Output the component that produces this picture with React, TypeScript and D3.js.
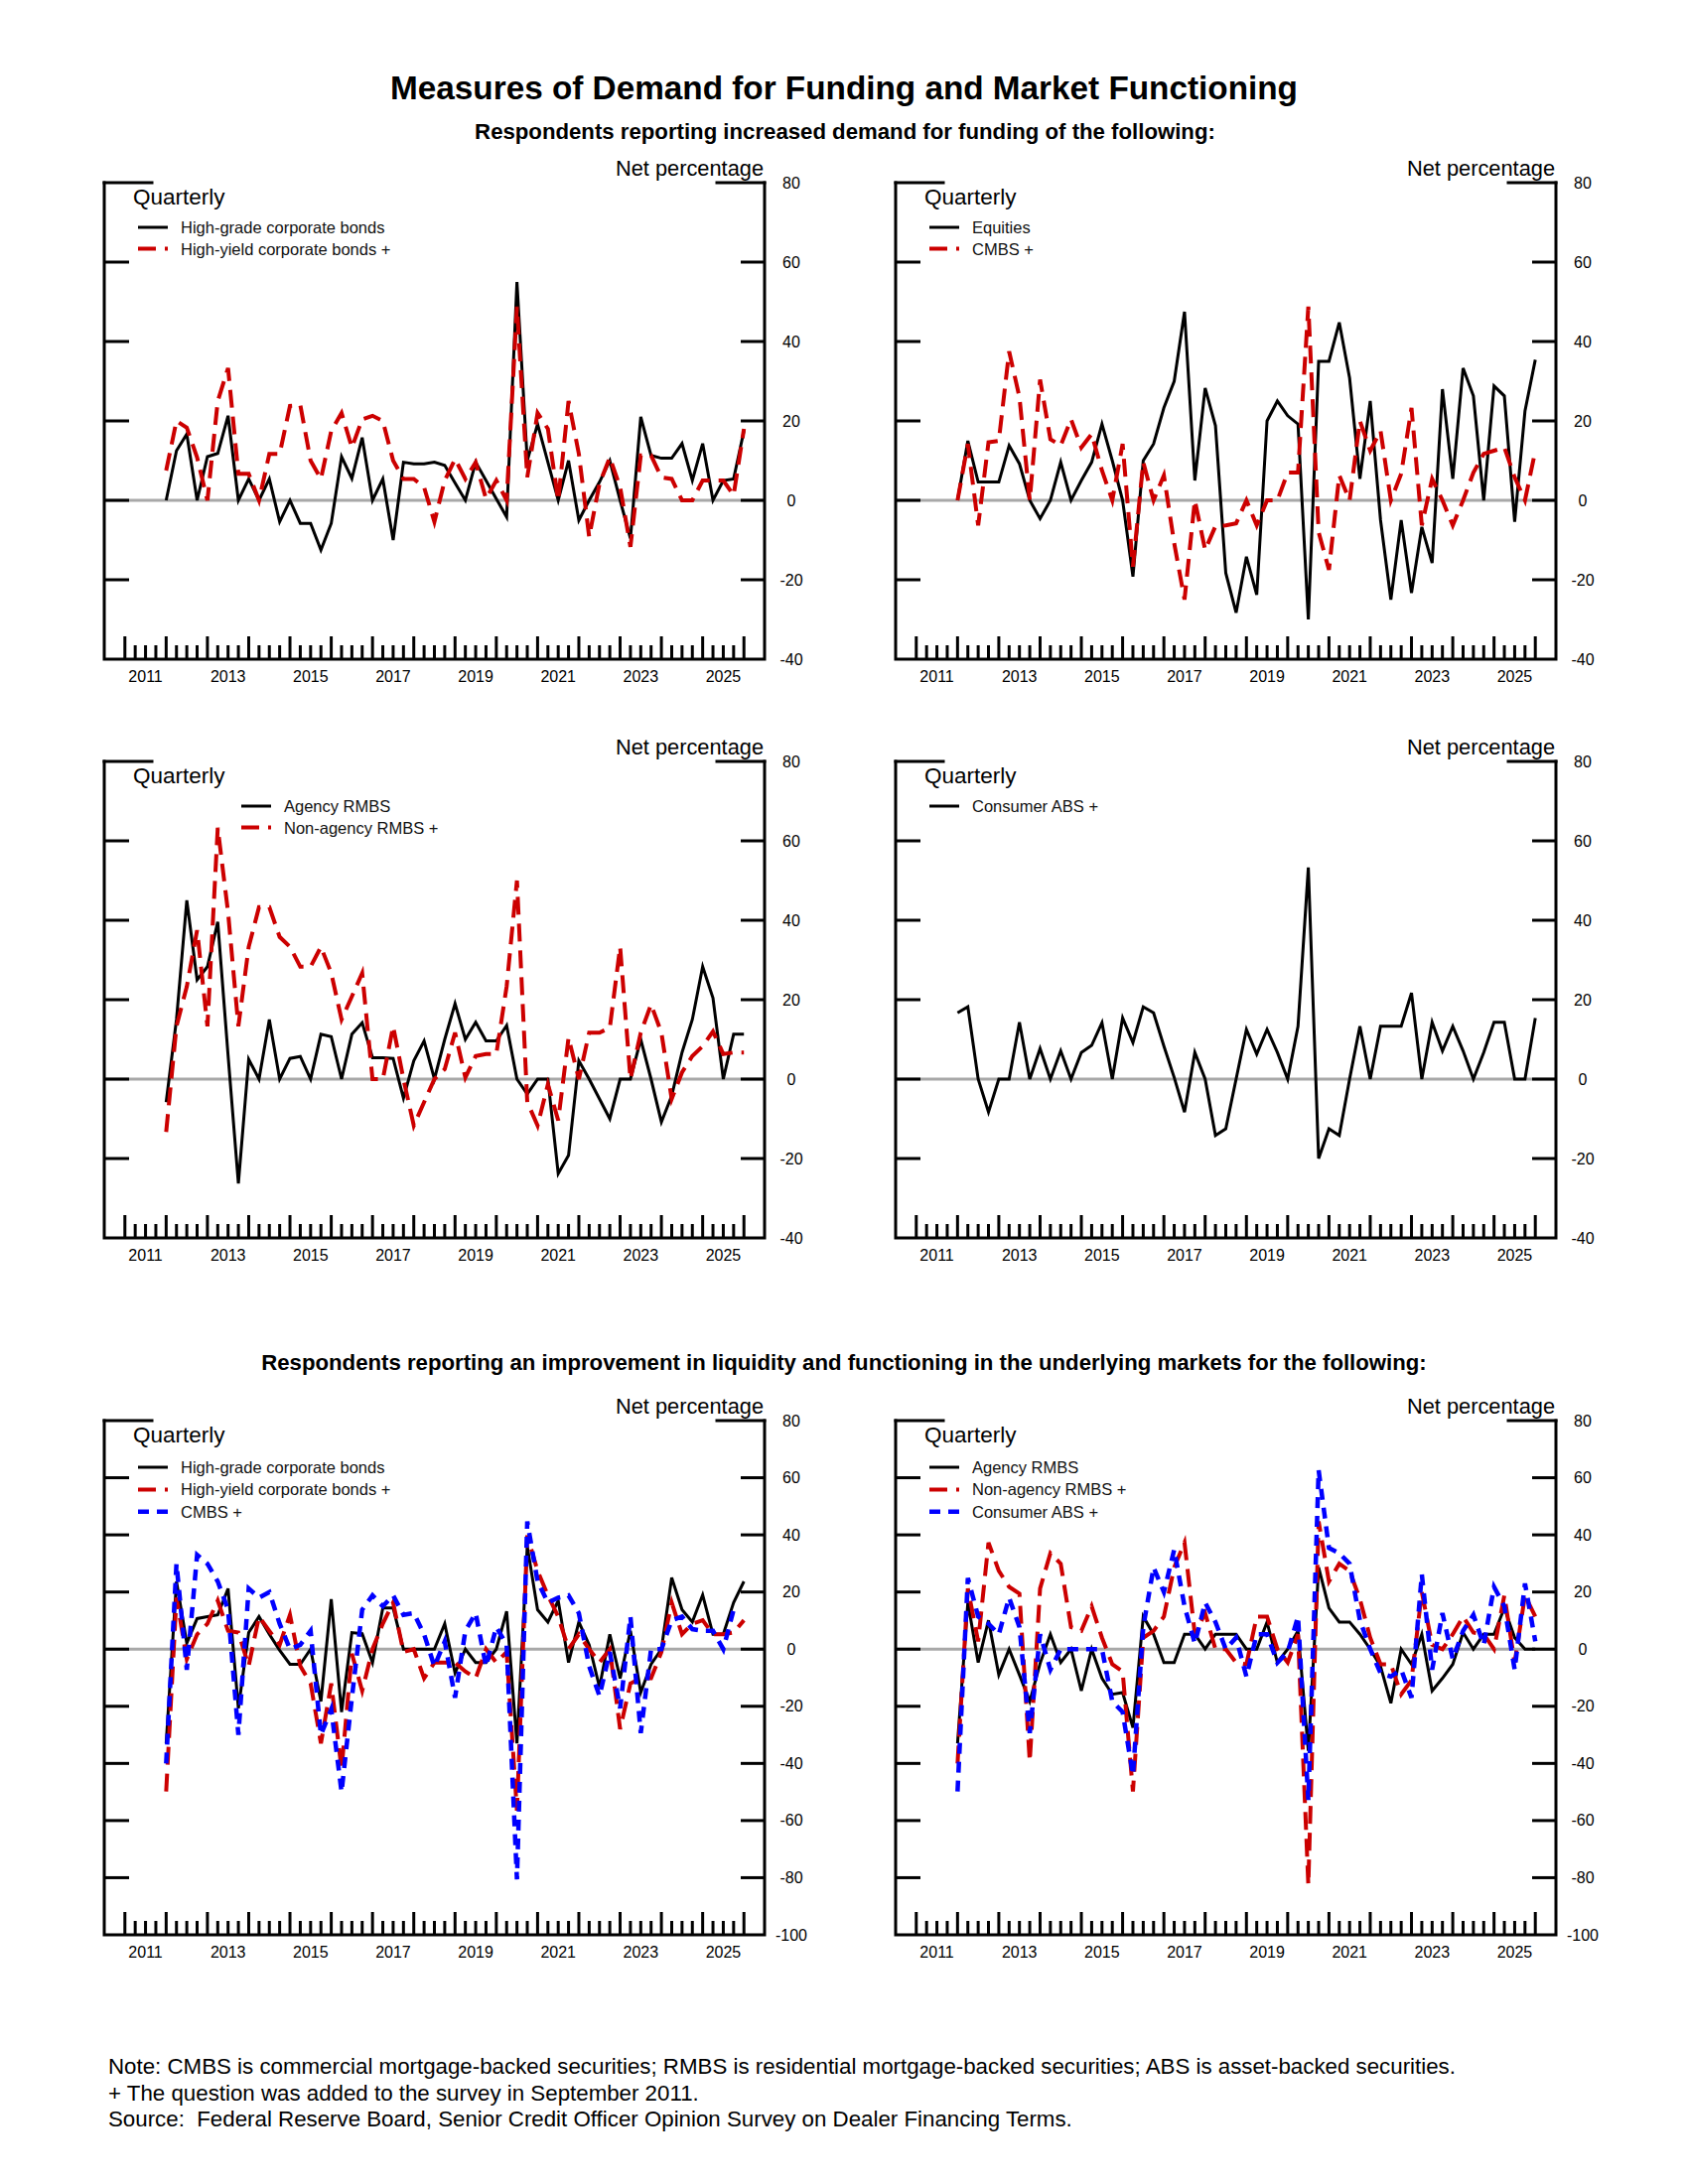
import { useEffect, useRef } from 'react';
import * as d3 from 'd3';

// Quarterly survey readings (net percentage). First reading sits on the 2012 tick.
const FIRST_QUARTER = 2012;
const YEAR_LABELS = [2011, 2013, 2015, 2017, 2019, 2021, 2023, 2025];

// Demand for funding
const demandHighGrade = [0, 12.5, 16.7, 0, 11, 11.8, 21.3, 0, 5.4, 0, 5.4, -5.4, 0, -5.8, -5.8, -12.5, -5.8, 11, 5.5, 15.8, 0, 5.4, -10, 9.6, 9.2, 9.2, 9.6, 8.8, 4.4, 0, 9.6, 5, 0.4, -4.2, 55, 10, 19.2, 9.6, 0, 10, -5, 0, 4.6, 10, 0, -9.6, 21, 11.3, 10.6, 10.6, 14.3, 5, 14.3, 0, 5, 5.4, 17.5];
const demandHighYield = [7.5, 20, 18.3, 10.8, 0, 25, 33.3, 6.7, 6.7, 0, 11.7, 11.7, 23.8, 24, 10, 5.4, 17.5, 22, 13.3, 20.4, 21.3, 20, 10, 5.4, 5.4, 3.3, -5.4, 5, 10.4, 5.4, 9.6, 0.4, 5, 0, 48.8, 5.8, 22, 18, 0, 25, 11.7, -9.2, 4.2, 10.8, 3.3, -11.7, 11.3, 11.3, 5.8, 5.4, 0, 0, 5, 5, 5, 1.3, 18];
const demandEquities = [0, 15, 4.6, 4.6, 4.6, 13.8, 9.2, 0, -4.6, 0, 9.6, 0, 5, 9.6, 19.2, 10, 0, -19.2, 10, 14.2, 23.3, 30, 47.5, 5, 28.3, 18.8, -18.3, -28.3, -14.2, -23.8, 20, 25, 21.3, 19.2, -30, 35, 35, 44.8, 30.8, 5.4, 25, -5, -25, -5, -23.3, -6.7, -15.8, 28, 5.4, 33.3, 26.3, 0, 28.8, 26.3, -5.4, 22.5, 35.4];
const demandCmbs = [0, 14.2, -6.3, 14.6, 15, 37.5, 26, 0, 30.4, 15.4, 13.8, 20.4, 13.3, 16.7, 7.5, 0, 14.2, -16.7, 9.6, 0, 6.3, -10.8, -25, 0, -12.5, -6.5, -6.3, -5.8, 0, -6.3, 0, 0, 7, 7, 48.8, -8, -17.5, 6.3, 0, 20, 12.5, 17.5, 0, 6.7, 23.3, -6.3, 5.4, 0, -6.3, 0, 7, 11.7, 12.5, 13.3, 5.8, 0, 12.5];
const demandAgencyRmbs = [-5.8, 15, 45, 25, 28.3, 39.6, 6, -26.3, 5, 0, 15, 0, 5.2, 5.7, 0, 11.3, 10.7, 0, 11.3, 14.2, 5.4, 5.4, 5.2, -4.8, 4.6, 9.6, 0, 10, 19, 10, 14.3, 9.6, 9.6, 13.5, 0, -3.8, 0, 0, -23.8, -19.2, 4.6, 0, -5, -10, 0, 0, 10, 0, -10.8, -4.2, 6.7, 15, 28.3, 20.4, 0, 11.3, 11.3];
const demandNonAgencyRmbs = [-13.3, 13.3, 23.3, 37.5, 13.3, 63.3, 42, 13.3, 33.3, 43.3, 43.3, 35.8, 33.3, 28.3, 28.3, 33.3, 26.7, 15, 20.8, 26.7, 0, 0, 13.3, 0, -11.7, -5.8, 0, 2.5, 11.7, 0.4, 5.8, 6.3, 6.3, 23.3, 50, -5.8, -11.7, -1.3, -10.4, 10.4, 0, 11.7, 11.7, 12.9, 33.3, 0, 11.7, 18.8, 11.7, -5, 1.7, 5.8, 8.3, 12, 6.3, 6.7, 6.7];
const demandConsumerAbs = [16.7, 18.2, 0, -8.3, 0, 0, 14.3, 0, 7.7, 0, 7.1, 0, 6.7, 8.5, 14.2, 0, 15.4, 9.2, 18.2, 16.7, 8.3, 0.4, -8.3, 6.7, 0, -14.2, -12.5, 0, 12.5, 6.3, 12.5, 6.7, 0, 13.3, 53.3, -20, -12.5, -14.2, 0, 13.3, 0, 13.3, 13.3, 13.3, 21.7, 0, 14.3, 7.1, 13.3, 7.1, 0, 6.7, 14.3, 14.3, 0, 0, 15.4];

// Liquidity and market functioning
const liqHighGrade = [-33, 23.7, 2.1, 10.7, 11.4, 12, 21.2, -20.7, 5.8, 11.4, 5.2, -0.4, -5.3, -5.3, 0, -18.3, 17.5, -22, 5.8, 5.4, -4.7, 14.4, 14.4, 0, 0, 0, 0, 8.9, -8.4, 0, -4.7, -4.7, 0, 13.2, -33, 36, 13.8, 9.5, 17, -4.7, 9.5, 1.5, -13.3, 5.2, -10.2, 6.4, -15.2, -5.3, 0, 25, 13.8, 9.5, 19, 5.2, 5.2, 16.3, 23.7];
const liqHighYield = [-49.8, 18, -3.5, 5.2, 8.9, 17, 6.4, 5.8, -5.9, 11.4, 6.4, 1.5, 12, -5.9, -12, -33, -12, -42, -1.6, -14.6, 0, 8.9, 16.3, -1, 0, -10.2, -4.7, -4.7, -4.7, -7.8, -10.2, 0, -4.7, -1, -56.5, 39.8, 27.4, 18.8, 11.4, 0, 5.2, 0, -4.7, 0, -28, -12, -10.2, -10.2, -1, 16.3, 5.2, 8.9, 10.1, 5.2, 5.2, 5.8, 10.1];
const liqCmbs = [-40, 29.9, -7.2, 33, 29.9, 23.7, 13.8, -30, 21.2, 18, 20, 8.9, 0, 1.5, 6.4, -30, -21, -50, -17, 13.8, 18.8, 15, 18.8, 12, 12.6, 5.2, -6, 2.7, -17, 6.4, 12.6, -6, 7.7, 1.5, -80.6, 44.7, 23.7, 16.3, 18, 18.8, 12.6, -6, -16.4, -1, -20.7, 11.4, -29.4, 0, 0, 10.1, 11.4, 7, 6.4, 6.4, 0, 13.8];
const liqAgencyRmbs = [-33, 16.3, -4.7, 10.1, -9, 0, -9, -18.3, -5, 5.2, -4.7, 0, -14.6, 0, -10.2, -15.8, -15.2, -27.5, 11.4, 5.2, -4.7, -4.7, 5.2, 5.2, 0, 5.2, 5.2, 5.2, 0, 0, 9.5, -4.7, 0, 6.4, -35.6, 28.6, 14.4, 9.5, 9.5, 5.2, 0, -6, -18.9, 0, -5.3, 5.2, -14.6, -10.2, -5.3, 5.8, 0, 5.2, 5.2, 14.4, 4, 0, 0];
const liqNonAgencyRmbs = [-40, 21.2, 2.7, 37.3, 27.4, 21.8, 19.4, -39.3, 21.2, 33.6, 29.9, 7.7, 6.4, 15, 4, -5.3, -7.8, -49.8, 4, 6.4, 11.4, 28.6, 37.3, 5.2, 12.6, 0, 0, -4.7, -5.3, 11.4, 11.4, 0, -4.7, 5.2, -82.5, 44.7, 23.7, 29.9, 27.4, 17.5, 4, -5.3, -5.3, -15.8, -10.9, 20, 1.5, 0, 5.2, 11.4, 5.8, 5.2, 0, 18.8, -4.7, 18.8, 11.4];
const liqConsumerAbs = [-49.8, 24.9, 11.4, 8.9, 5.2, 18, 7.7, -29.4, 5.2, -7.2, 0, 0, 0, 0, 0, -18.3, -22, -44, 7.7, 28.6, 20, 34.8, 15, 2, 16.3, 9.5, 0, 4, -9.6, 5.2, 5.2, -4.7, -1, 11.4, -52.8, 62.6, 35.4, 33.6, 29.9, 10.1, 0, -8.4, -9.6, -7.2, -17, 26.2, -7.2, 12.6, -3.5, 6.4, 12, 1.5, 21.8, 15, -7.2, 23, 2.7];

const FONT = "'Liberation Sans', Arial, Helvetica, sans-serif";
const RED = '#cc0000';
const BLUE = '#0000ff';
const ZERO_GRAY = '#a8a8a8';
const PANEL_W = 665;

type Series = { label: string; values: number[]; kind: 'solid' | 'red' | 'blue' };
type Panel = {
  left: number;
  top: number;
  height: number;
  domain: [number, number];
  legendX: number;
  legendTop: number;
  legendGap: number;
  series: Series[];
};

const styleFor = {
  solid: { color: '#000', width: 3, dash: null as string | null },
  red: { color: RED, width: 4, dash: '18,9' },
  blue: { color: BLUE, width: 4.5, dash: '11,8' },
};

const panels: Panel[] = [
  {
    left: 105, top: 184, height: 480, domain: [-40, 80], legendX: 34, legendTop: 51, legendGap: 21.5,
    series: [
      { label: 'High-grade corporate bonds', values: demandHighGrade, kind: 'solid' },
      { label: 'High-yield corporate bonds +', values: demandHighYield, kind: 'red' },
    ],
  },
  {
    left: 902, top: 184, height: 480, domain: [-40, 80], legendX: 34, legendTop: 51, legendGap: 21.5,
    series: [
      { label: 'Equities', values: demandEquities, kind: 'solid' },
      { label: 'CMBS +', values: demandCmbs, kind: 'red' },
    ],
  },
  {
    left: 105, top: 767, height: 480, domain: [-40, 80], legendX: 138, legendTop: 51, legendGap: 21.5,
    series: [
      { label: 'Agency RMBS', values: demandAgencyRmbs, kind: 'solid' },
      { label: 'Non-agency RMBS +', values: demandNonAgencyRmbs, kind: 'red' },
    ],
  },
  {
    left: 902, top: 767, height: 480, domain: [-40, 80], legendX: 34, legendTop: 51, legendGap: 21.5,
    series: [{ label: 'Consumer ABS +', values: demandConsumerAbs, kind: 'solid' }],
  },
  {
    left: 105, top: 1431, height: 518, domain: [-100, 80], legendX: 34, legendTop: 53, legendGap: 22.4,
    series: [
      { label: 'High-grade corporate bonds', values: liqHighGrade, kind: 'solid' },
      { label: 'High-yield corporate bonds +', values: liqHighYield, kind: 'red' },
      { label: 'CMBS +', values: liqCmbs, kind: 'blue' },
    ],
  },
  {
    left: 902, top: 1431, height: 518, domain: [-100, 80], legendX: 34, legendTop: 53, legendGap: 22.4,
    series: [
      { label: 'Agency RMBS', values: liqAgencyRmbs, kind: 'solid' },
      { label: 'Non-agency RMBS +', values: liqNonAgencyRmbs, kind: 'red' },
      { label: 'Consumer ABS +', values: liqConsumerAbs, kind: 'blue' },
    ],
  },
];

function drawPanel(svg: d3.Selection<SVGSVGElement, unknown, null, undefined>, p: Panel) {
  const x0 = p.left;
  const x1 = p.left + PANEL_W;
  const y0 = p.top;
  const y1 = p.top + p.height;

  const x = d3.scaleLinear().domain([2010.5, 2026.5]).range([x0, x1]);
  const y = d3.scaleLinear().domain(p.domain).range([y1, y0]);

  const g = svg.append('g');

  // Zero line
  g.append('line')
    .attr('x1', x0).attr('x2', x1)
    .attr('y1', y(0)).attr('y2', y(0))
    .attr('stroke', ZERO_GRAY)
    .attr('stroke-width', 3);

  // Frame: left, bottom, right; short stubs at the top corners
  g.append('path')
    .attr('d', `M${x0},${y0}V${y1}H${x1}V${y0}`)
    .attr('fill', 'none')
    .attr('stroke', '#000')
    .attr('stroke-width', 3)
    .attr('stroke-linecap', 'square');
  [[x0, x0 + 48], [x1 - 48, x1]].forEach(([a, b]) => {
    g.append('line').attr('x1', a).attr('x2', b).attr('y1', y0).attr('y2', y0)
      .attr('stroke', '#000').attr('stroke-width', 3).attr('stroke-linecap', 'square');
  });

  // Y ticks on both sides (inside)
  const inner = d3.range(p.domain[0] + 20, p.domain[1], 20);
  inner.forEach(v => {
    g.append('line').attr('x1', x0).attr('x2', x0 + 25).attr('y1', y(v)).attr('y2', y(v))
      .attr('stroke', '#000').attr('stroke-width', 3);
    g.append('line').attr('x1', x1 - 24).attr('x2', x1).attr('y1', y(v)).attr('y2', y(v))
      .attr('stroke', '#000').attr('stroke-width', 3);
  });

  // Y labels at right
  d3.range(p.domain[0], p.domain[1] + 1, 20).forEach(v => {
    g.append('text')
      .attr('x', x1 + 27)
      .attr('y', y(v))
      .attr('dy', '0.35em')
      .attr('text-anchor', 'middle')
      .attr('font-size', 16)
      .text(String(v));
  });

  // X ticks: years tall, quarters short
  d3.range(2011, 2026.01, 0.25).forEach(t => {
    const major = Math.abs(t - Math.round(t)) < 1e-6;
    g.append('line')
      .attr('x1', x(t)).attr('x2', x(t))
      .attr('y1', y1).attr('y2', y1 - (major ? 23 : 14))
      .attr('stroke', '#000').attr('stroke-width', 3);
  });
  YEAR_LABELS.forEach(yr => {
    g.append('text')
      .attr('x', x(yr + 0.5))
      .attr('y', y1 + 23)
      .attr('text-anchor', 'middle')
      .attr('font-size', 16)
      .text(String(yr));
  });

  // Header texts
  g.append('text')
    .attr('x', x1 - 1).attr('y', y0 - 7.5)
    .attr('text-anchor', 'end')
    .attr('font-size', 21.8)
    .text('Net percentage');
  g.append('text')
    .attr('x', x0 + 29).attr('y', y0 + 22)
    .attr('font-size', 22.5)
    .text('Quarterly');

  // Series
  const line = d3.line<number>()
    .x((_, i) => x(FIRST_QUARTER + i / 4))
    .y(d => y(d));

  p.series.forEach(s => {
    const st = styleFor[s.kind];
    g.append('path')
      .datum(s.values)
      .attr('d', line)
      .attr('fill', 'none')
      .attr('stroke', st.color)
      .attr('stroke-width', st.width)
      .attr('stroke-dasharray', st.dash)
      .attr('stroke-linejoin', 'miter');
  });

  // Legend
  p.series.forEach((s, k) => {
    const st = styleFor[s.kind];
    const ly = y0 + p.legendTop + k * p.legendGap;
    g.append('line')
      .attr('x1', x0 + p.legendX).attr('x2', x0 + p.legendX + 30)
      .attr('y1', ly - 6).attr('y2', ly - 6)
      .attr('stroke', st.color)
      .attr('stroke-width', st.width)
      .attr('stroke-dasharray', st.dash);
    g.append('text')
      .attr('x', x0 + p.legendX + 43)
      .attr('y', ly)
      .attr('font-size', 16.5)
      .attr('fill', '#111')
      .text(s.label);
  });
}

export default function App() {
  const svgRef = useRef<SVGSVGElement>(null);

  useEffect(() => {
    if (!svgRef.current) return;
    const svg = d3.select(svgRef.current);
    svg.selectAll('*').remove();
    svg.attr('font-family', FONT);

    svg.append('rect').attr('width', 1700).attr('height', 2200).attr('fill', '#fff');

    svg.append('text')
      .attr('x', 850).attr('y', 100)
      .attr('text-anchor', 'middle')
      .attr('font-size', 33.3)
      .attr('font-weight', 700)
      .text('Measures of Demand for Funding and Market Functioning');
    svg.append('text')
      .attr('x', 851).attr('y', 140)
      .attr('text-anchor', 'middle')
      .attr('font-size', 22.2)
      .attr('font-weight', 700)
      .text('Respondents reporting increased demand for funding of the following:');
    svg.append('text')
      .attr('x', 850).attr('y', 1380)
      .attr('text-anchor', 'middle')
      .attr('font-size', 22.2)
      .attr('font-weight', 700)
      .text('Respondents reporting an improvement in liquidity and functioning in the underlying markets for the following:');

    panels.forEach(p => drawPanel(svg, p));

    const notes = [
      'Note: CMBS is commercial mortgage-backed securities; RMBS is residential mortgage-backed securities; ABS is asset-backed securities.',
      '+ The question was added to the survey in September 2011.',
      'Source:  Federal Reserve Board, Senior Credit Officer Opinion Survey on Dealer Financing Terms.',
    ];
    notes.forEach((n, i) => {
      svg.append('text')
        .attr('x', 109).attr('y', 2089 + i * 26.6)
        .attr('font-size', 22.3)
        .attr('xml:space', 'preserve')
        .style('white-space', 'pre')
        .text(n);
    });
  }, []);

  return (
    <svg
      ref={svgRef}
      width={1700}
      height={2200}
      style={{ position: 'absolute', left: 0, top: 0, display: 'block' }}
    />
  );
}
